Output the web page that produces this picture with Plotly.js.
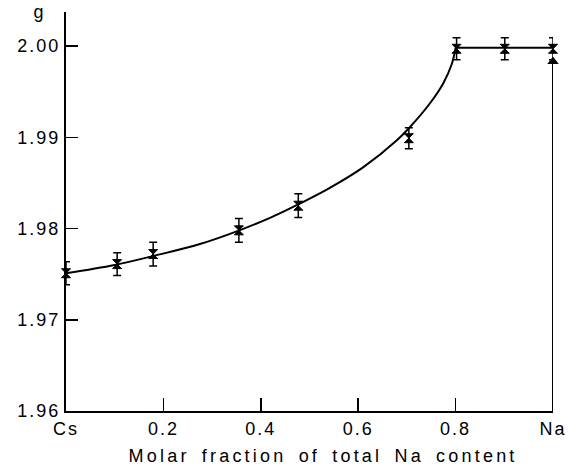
<!DOCTYPE html>
<html>
<head>
<meta charset="utf-8">
<script src="https://cdn.plot.ly/plotly-3.0.1.min.js"></script>
<style>
  html, body { margin: 0; padding: 0; background: #fff; }
  #chart { width: 573px; height: 471px; }
  #chart svg text { letter-spacing: 2px; }
  #chart svg .annotation-text { letter-spacing: 3.2px; word-spacing: 4px; }
</style>
</head>
<body>
<div id="chart"></div>
<script>
// Measured data points (molar fraction of Na, g value, error)
const fracNa = [0, 0.105, 0.179, 0.355, 0.477, 0.704, 0.802, 0.901, 1.0];
const gValue = [1.9751, 1.9761, 1.9772, 1.9798, 1.9825, 1.9899, 1.9997, 1.9997, 1.9997];
const gError = [0.00125, 0.00124, 0.0013, 0.0013, 0.0013, 0.00115, 0.0012, 0.0012, 0.0012];

// Fitted curve
const curveX = [0, 0.1, 0.18, 0.275, 0.356, 0.42, 0.479, 0.54, 0.61, 0.68, 0.706, 0.747, 0.7745, 0.792, 0.80];
const curveY = [1.9751, 1.9760, 1.9770, 1.9783, 1.9798, 1.9812, 1.9827, 1.9844, 1.9867, 1.9897, 1.9911, 1.9937, 1.9959, 1.9980, 1.9998];
const plateauX = [0.80, 0.90, 1.0];
const plateauY = [1.9998, 1.9998, 1.9998];

// Pure Na reference (triangle) and its vertical line
const naLineX = [1.0, 1.0];
const naLineY = [1.96, 1.9983];
const naTriX = [1.0];
const naTriY = [1.9983];

// Ticks
const xTickVals = [0, 0.2, 0.4, 0.6, 0.8, 1.0];
const xTickText = ['Cs', '0.2', '0.4', '0.6', '0.8', 'Na'];
const yTickVals = [1.96, 1.97, 1.98, 1.99, 2.00];
const yTickText = ['1.96', '1.97', '1.98', '1.99', '2.00'];

const FONT = 'Liberation Sans, Arial, sans-serif';

const traces = [
  {
    x: curveX, y: curveY, mode: 'lines', type: 'scatter',
    line: {color: '#000', width: 2, shape: 'spline', smoothing: 1},
    hoverinfo: 'skip', cliponaxis: false
  },
  {
    x: plateauX, y: plateauY, mode: 'lines', type: 'scatter',
    line: {color: '#000', width: 2},
    hoverinfo: 'skip', cliponaxis: false
  },
  {
    x: naLineX, y: naLineY, mode: 'lines', type: 'scatter',
    line: {color: '#000', width: 2},
    cliponaxis: false
  },
  {
    x: naTriX, y: naTriY, mode: 'markers', type: 'scatter',
    marker: {symbol: 'triangle-up', size: 10, color: '#000'},
    cliponaxis: false
  },
  {
    x: fracNa, y: gValue, mode: 'markers', type: 'scatter',
    marker: {symbol: 'hourglass', size: 9, color: '#000', line: {color: '#000', width: 1}},
    error_y: {type: 'data', array: gError, visible: true, color: '#000', thickness: 1.5, width: 4},
    cliponaxis: false
  }
];

const layout = {
  width: 573, height: 471,
  margin: {l: 66, r: 20, t: 12, b: 60},
  paper_bgcolor: '#fff', plot_bgcolor: '#fff',
  showlegend: false,
  font: {family: FONT, size: 18, color: '#000'},
  xaxis: {
    range: [0, 1],
    tickvals: xTickVals, ticktext: xTickText,
    ticks: 'inside', ticklen: 13, tickwidth: 1.5, tickcolor: '#000',
    showline: true, linecolor: '#000', linewidth: 2,
    showgrid: false, zeroline: false,
    tickfont: {family: FONT, size: 18, color: '#000'}
  },
  yaxis: {
    range: [1.96, 2.00373],
    tickvals: yTickVals, ticktext: yTickText,
    ticks: 'inside', ticklen: 12, tickwidth: 1.5, tickcolor: '#000',
    showline: true, linecolor: '#000', linewidth: 2,
    showgrid: false, zeroline: false,
    tickfont: {family: FONT, size: 18, color: '#000'}
  },
  annotations: [
    {
      text: 'Molar fraction of total Na content',
      xref: 'paper', yref: 'paper', x: 0.527, y: -0.113,
      xanchor: 'center', yanchor: 'middle', showarrow: false,
      font: {family: FONT, size: 18, color: '#000'}
    },
    {
      text: 'g',
      xref: 'paper', yref: 'paper', x: -0.053, y: 1.0,
      xanchor: 'center', yanchor: 'middle', showarrow: false,
      font: {family: FONT, size: 18, color: '#000'}
    }
  ]
};

Plotly.newPlot('chart', traces, layout, {displayModeBar: false, staticPlot: true});
</script>
</body>
</html>
